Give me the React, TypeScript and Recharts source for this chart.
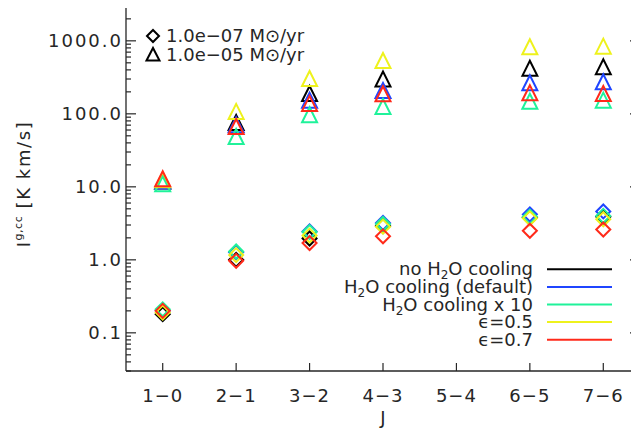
import React from "react";
import { ScatterChart, Scatter, XAxis, YAxis } from "recharts";

const transitions = ["1−0", "2−1", "3−2", "4−3", "5−4", "6−5", "7−6"];
const jUpper = [1, 2, 3, 4, 5, 6, 7];

// Mdot = 1e-5 Msun/yr (triangles), K km/s
const noCoolHi = [12, 76, 190, 300, null, 420, 440];
const defaultHi = [12, 71, 154, 209, null, 266, 275];
const x10Hi = [11, 49, 97, 126, null, 149, 154];
const eps05Hi = [12.5, 108, 305, 537, null, 828, 846];
const eps07Hi = [12.9, 67, 139, 188, null, 194, 190];

// Mdot = 1e-7 Msun/yr (diamonds)
const noCoolLo = [0.18, 1.0, 1.96, 2.9, null, 3.8, 3.9];
const defaultLo = [0.2, 1.27, 2.45, 3.2, null, 4.2, 4.6];
const x10Lo = [0.21, 1.3, 2.4, 3.1, null, 3.9, 4.0];
const eps05Lo = [0.19, 1.16, 2.15, 2.85, null, 3.7, 3.6];
const eps07Lo = [0.2, 0.97, 1.7, 2.1, null, 2.5, 2.6];

const majorTicks = [0.1, 1, 10, 100, 1000];
const minorTicks: number[] = [];
[0.01, 0.1, 1, 10, 100, 1000].forEach((d) => {
  for (let k = 2; k <= 9; k++) {
    const v = +(d * k).toPrecision(3);
    if (v >= 0.03 && v <= 3000) minorTicks.push(v);
  }
});
const yTicks = [...majorTicks, ...minorTicks].sort((a, b) => a - b);

const series = [
  { name: "no H2O cooling", color: "#000000", hi: noCoolHi, lo: noCoolLo },
  { name: "H2O cooling (default)", color: "#1f45ff", hi: defaultHi, lo: defaultLo },
  { name: "H2O cooling x 10", color: "#1ff29a", hi: x10Hi, lo: x10Lo },
  { name: "ϵ=0.5", color: "#eef21c", hi: eps05Hi, lo: eps05Lo },
  { name: "ϵ=0.7", color: "#ff2a1a", hi: eps07Hi, lo: eps07Lo },
];

const toPoints = (vals: (number | null)[]) =>
  vals
    .map((v, i) => ({ x: jUpper[i], y: v }))
    .filter((p) => p.y != null);

const INK = "#262626";
const FONT = "DejaVu Sans, sans-serif";

const triangle = (color: string, s = 7.5) => (p: any) => {
  const { cx, cy } = p;
  return (
    <polygon
      points={`${cx - s},${cy + s} ${cx},${cy - s} ${cx + s},${cy + s}`}
      fill="none"
      stroke={color}
      strokeWidth={2}
    />
  );
};

const diamond = (color: string, s = 7) => (p: any) => {
  const { cx, cy } = p;
  return (
    <polygon
      points={`${cx - s},${cy} ${cx},${cy - s} ${cx + s},${cy} ${cx},${cy + s}`}
      fill="none"
      stroke={color}
      strokeWidth={2}
    />
  );
};

const isMajor = (v: number) =>
  Math.abs(Math.log10(v) - Math.round(Math.log10(v))) < 1e-6;

const LeftTick = (props: any) => {
  const { x, y, payload } = props;
  const major = isMajor(payload.value);
  return (
    <g>
      <line x1={x} x2={x + (major ? 10 : 5)} y1={y} y2={y} stroke={INK} strokeWidth={1.2} />
      {major && (
        <text
          x={x - 3}
          y={y}
          textAnchor="end"
          dominantBaseline="central"
          fontFamily={FONT}
          fontSize={18}
          letterSpacing={2}
          fill={INK}
        >
          {payload.value.toFixed(1)}
        </text>
      )}
    </g>
  );
};

const RightTick = (props: any) => {
  const { x, y, payload } = props;
  const major = isMajor(payload.value);
  return <line x1={x} x2={x - (major ? 10 : 5)} y1={y} y2={y} stroke={INK} strokeWidth={1.2} />;
};

const BottomTick = (props: any) => {
  const { x, y, payload } = props;
  return (
    <g>
      <line x1={x} x2={x} y1={y} y2={y - 8} stroke={INK} strokeWidth={1.2} />
      <text
        x={x}
        y={y + 31}
        textAnchor="middle"
        fontFamily={FONT}
        fontSize={18}
        letterSpacing={1}
        fill={INK}
      >
        {transitions[payload.value - 1]}
      </text>
    </g>
  );
};

const TopTick = (props: any) => {
  const { x, y } = props;
  return <line x1={x} x2={x} y1={y} y2={y + 8} stroke={INK} strokeWidth={1.2} />;
};

const legendLabel = (name: string) => {
  if (name.startsWith("ϵ")) return <tspan>{name}</tspan>;
  const parts = name.split("H2O");
  return (
    <>
      <tspan>{parts[0]}H</tspan>
      <tspan dy={4} fontSize={12}>2</tspan>
      <tspan dy={-4}>O{parts[1]}</tspan>
    </>
  );
};

export default function App() {
  return (
    <div style={{ marginTop: -8, marginLeft: -8, width: 639, height: 434, overflow: "hidden" }}>
      <ScatterChart width={641} height={434} margin={{ top: 5, right: 0, left: 125, bottom: 62 }}>
        <XAxis
          xAxisId="b"
          dataKey="x"
          type="number"
          domain={[0.5, 7.5]}
          ticks={jUpper}
          interval={0}
          allowDataOverflow
          height={1}
          tickSize={0}
          tickMargin={0}
          tickLine={false}
          tick={BottomTick}
          axisLine={{ stroke: INK, strokeWidth: 1.3 }}
        />
        <XAxis
          xAxisId="t"
          orientation="top"
          type="number"
          domain={[0.5, 7.5]}
          ticks={jUpper}
          interval={0}
          allowDataOverflow
          height={1}
          tickSize={0}
          tickMargin={0}
          tickLine={false}
          tick={TopTick}
          axisLine={{ stroke: INK, strokeWidth: 1.3 }}
        />
        <YAxis
          yAxisId="l"
          dataKey="y"
          type="number"
          scale="log"
          domain={[0.03, 3000]}
          ticks={yTicks}
          interval={0}
          allowDataOverflow
          width={1}
          tickSize={0}
          tickMargin={0}
          tickLine={false}
          tick={LeftTick}
          axisLine={{ stroke: INK, strokeWidth: 1.3 }}
        />
        <YAxis
          yAxisId="r"
          orientation="right"
          type="number"
          scale="log"
          domain={[0.03, 3000]}
          ticks={yTicks}
          interval={0}
          allowDataOverflow
          width={1}
          tickSize={0}
          tickMargin={0}
          tickLine={false}
          tick={RightTick}
          axisLine={{ stroke: INK, strokeWidth: 1.3 }}
        />
        {series.map((s) => (
          <Scatter
            key={s.name + "-lo"}
            xAxisId="b"
            yAxisId="l"
            data={toPoints(s.lo)}
            shape={diamond(s.color)}
            isAnimationActive={false}
          />
        ))}
        {series.map((s) => (
          <Scatter
            key={s.name + "-hi"}
            xAxisId="b"
            yAxisId="l"
            data={toPoints(s.hi)}
            shape={triangle(s.color)}
            isAnimationActive={false}
          />
        ))}

        {/* axis titles */}
        <text x={383} y={424} textAnchor="middle" fontFamily={FONT} fontSize={18} fill={INK}>
          J
        </text>
        <text
          x={30}
          y={184}
          transform="rotate(-90, 30, 184)"
          textAnchor="middle"
          fontFamily={FONT}
          fontSize={18}
          letterSpacing={1.6}
          fill={INK}
        >
          <tspan>I</tspan>
          <tspan dy={-8} fontSize={11} letterSpacing={0.5}>g,cc</tspan>
          <tspan dy={8}> [K km/s]</tspan>
        </text>

        {/* mass-loss rate key */}
        <g fontFamily={FONT} fontSize={18} fill={INK}>
          <polygon points="147,36 153,30 159,36 153,42" fill="none" stroke="#000" strokeWidth={2} />
          <text x={166} y={42}>1.0e−07 M⊙/yr</text>
          <polygon points="146.5,60.5 153,48 159.5,60.5" fill="none" stroke="#000" strokeWidth={2} />
          <text x={166} y={61}>1.0e−05 M⊙/yr</text>
        </g>

        {/* series key */}
        <g fontFamily={FONT} fontSize={18} fill={INK}>
          {series.map((s, i) => {
            const y = 269.3 + i * 17.6;
            return (
              <g key={s.name}>
                <text x={533} y={y + 6} textAnchor="end">
                  {legendLabel(s.name)}
                </text>
                <line x1={547} x2={612} y1={y} y2={y} stroke={s.color} strokeWidth={2} />
              </g>
            );
          })}
        </g>
      </ScatterChart>
    </div>
  );
}
